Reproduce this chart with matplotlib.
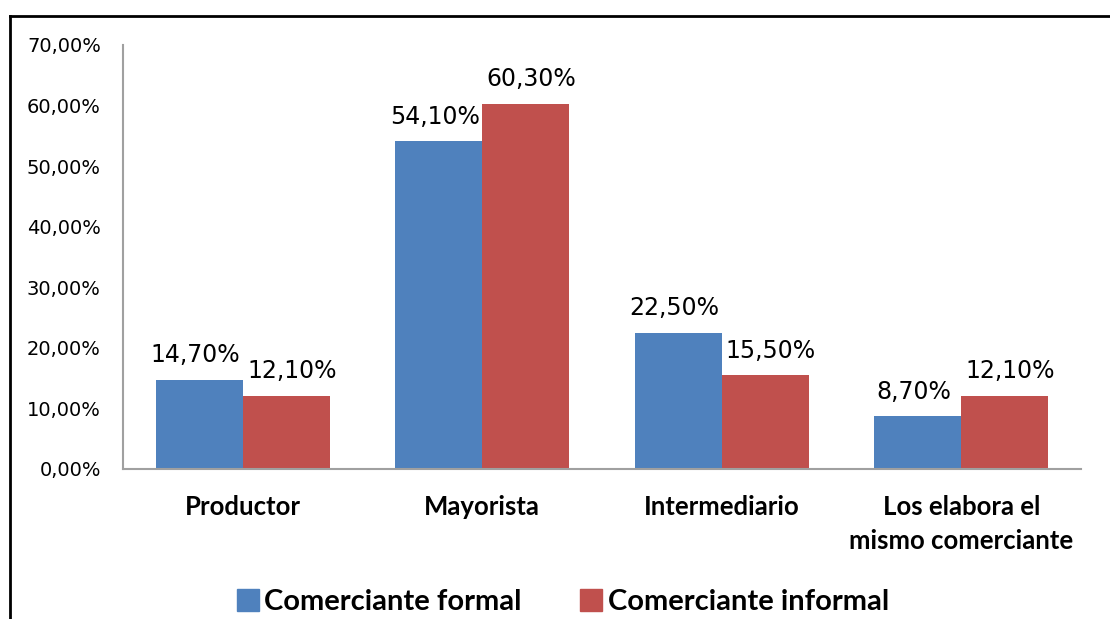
import matplotlib
matplotlib.use("Agg")
import matplotlib.pyplot as plt
from matplotlib.lines import Line2D
from matplotlib.patches import Patch
import numpy as np

categories = ["Productor", "Mayorista", "Intermediario", "Los elabora el\nmismo comerciante"]
formal = [14.7, 54.1, 22.5, 8.7]
informal = [12.1, 60.3, 15.5, 12.1]
series_names = ["Comerciante formal", "Comerciante informal"]
yticks = [0, 10, 20, 30, 40, 50, 60, 70]

blue = "#4F81BD"
red = "#C0504D"

fig = plt.figure(figsize=(11.10, 6.19), dpi=100)
ax = fig.add_axes([123/1110, 1-469/619, (1081-123)/1110, (469-45)/619])

x = np.arange(len(categories))
w = 0.363
b1 = ax.bar(x - w/2, formal, w, color=blue, zorder=2)
b2 = ax.bar(x + w/2, informal, w, color=red, zorder=2)

def fmt(v):
    return f"{v:.2f}".replace(".", ",") + "%"

for bars, vals, dx in ((b1, formal, -3), (b2, informal, 4)):
    for rect, v in zip(bars, vals):
        ax.annotate(fmt(v),
                    (rect.get_x() + rect.get_width()/2, v),
                    xytext=(dx, 9), textcoords="offset points",
                    ha="center", va="bottom", fontsize=17, family="DejaVu Sans",
                    color="#000000")

ax.set_xlim(-0.5, len(categories) - 0.5)
ax.set_ylim(0, 70)
ax.set_yticks(yticks)
ax.set_yticklabels([f"{t},00%" for t in yticks], fontsize=14, family="DejaVu Sans")
ax.set_xticks(x)
ax.set_xticklabels(categories, fontsize=18.5, family="Lato", fontweight="bold", linespacing=1.5)
ax.tick_params(axis="x", length=0, pad=19)
ax.tick_params(axis="y", length=0, pad=16)
for s in ("top", "right"):
    ax.spines[s].set_visible(False)
for s in ("left", "bottom"):
    ax.spines[s].set_color("#A0A0A0")
    ax.spines[s].set_linewidth(1.5)

handles = [Patch(color=blue), Patch(color=red)]
fig.legend(handles, series_names, loc="center", bbox_to_anchor=(563/1110, 1-602/619),
           ncol=2, frameon=False, prop={"family": "Lato", "weight": "bold", "size": 21},
           handlelength=0.75, handleheight=0.75, handletextpad=0.2, columnspacing=2.0,
           borderpad=0, borderaxespad=0)

fig.add_artist(Line2D([9.5/1110, 9.5/1110], [0, 1-15.5/619], transform=fig.transFigure, color="black", lw=2))
fig.add_artist(Line2D([9.5/1110, 1], [1-15.5/619, 1-15.5/619], transform=fig.transFigure, color="black", lw=2))

fig.savefig("out.png", dpi=100)
